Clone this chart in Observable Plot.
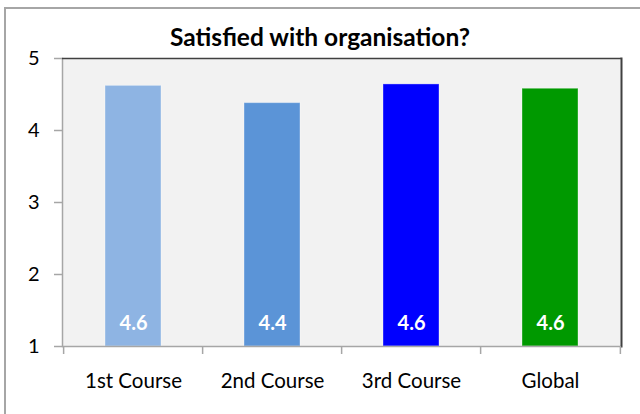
<!DOCTYPE html>
<html><head><meta charset="utf-8">
<script src="https://cdn.jsdelivr.net/npm/d3@7"></script>
<script src="https://cdn.jsdelivr.net/npm/@observablehq/plot@0.6"></script>
<style>
body{margin:0;background:#fff;}
#wrap{position:relative;width:640px;height:414px;overflow:hidden;}
#frame{position:absolute;left:4px;top:7px;width:700px;height:500px;border-top:2px solid #a6a6a6;border-left:2px solid #a6a6a6;}
#title{position:absolute;left:0;width:640px;top:22px;line-height:1;text-align:center;font:bold 24.5px Lato,sans-serif;color:#000;}
#chart{position:absolute;left:0;top:0;}
</style></head><body>
<div id="wrap"><div id="frame"></div><div id="chart"></div><div id="title">Satisfied with organisation?</div></div>
<script>
const categories = ["1st Course", "2nd Course", "3rd Course", "Global"];
const values = [4.62, 4.38, 4.64, 4.58];
const colors = ["#8eb4e3", "#5b94d7", "#0000ff", "#009900"];
const yTicks = [1, 2, 3, 4, 5];

const data = categories.map((c, i) => ({cat: c, value: values[i]}));
const W = 640, H = 414, ml = 62, mr = 19, mt = 58, mb = 68;
const step = (W - ml - mr) / categories.length;
const plotH = H - mt - mb;
const grey = "#a6a6a6";

const chart = Plot.plot({
  width: W, height: H,
  marginLeft: ml, marginRight: mr, marginTop: mt, marginBottom: mb,
  style: {fontFamily: "Lato, sans-serif", fontSize: "20px", background: "transparent", color: "#000"},
  x: {domain: categories, paddingInner: 0.6, paddingOuter: 0.3, axis: null},
  y: {domain: [yTicks[0], yTicks[yTicks.length - 1]], axis: null},
  color: {domain: categories, range: colors},
  marks: [
    Plot.frame({fill: "#f2f2f2", stroke: null}),
    Plot.barY(data, {x: "cat", y1: () => yTicks[0], y2: "value", fill: "cat", stroke: "#ffffff", strokeOpacity: 0.35, strokeWidth: 1}),
    Plot.text(data, {x: "cat", frameAnchor: "bottom", lineAnchor: "middle", dy: -23, text: d => d3.format(".1f")(d.value), fill: "white", fontWeight: "bold", fontSize: 20}),
    Plot.ruleY([yTicks[0]], {stroke: grey, strokeWidth: 1.5}),
    Plot.frame({anchor: "left", stroke: grey, strokeWidth: 1.5}),
    Plot.ruleY([yTicks[yTicks.length - 1]], {stroke: "#404040", strokeWidth: 1.5}),
    Plot.frame({anchor: "right", stroke: "#404040", strokeWidth: 2}),
    Plot.ruleX(categories, {x: d => d, dx: -step / 2, stroke: grey, strokeWidth: 1.5, insetTop: plotH, insetBottom: -8}),
    Plot.ruleX(categories.slice(-1), {x: d => d, dx: step / 2, stroke: grey, strokeWidth: 1.5, insetTop: plotH, insetBottom: -8}),
    Plot.axisY({ticks: yTicks, tickSize: 8, tickPadding: 15, stroke: grey, strokeWidth: 1.5, fill: "#000", label: null, fontSize: 20, tickFormat: d => String(d)}),
    Plot.axisX({tickSize: 0, tickPadding: 27, label: null, fill: "#000", fontSize: 20.5})
  ]
});
document.getElementById("chart").appendChild(chart);
</script>
</body></html>
